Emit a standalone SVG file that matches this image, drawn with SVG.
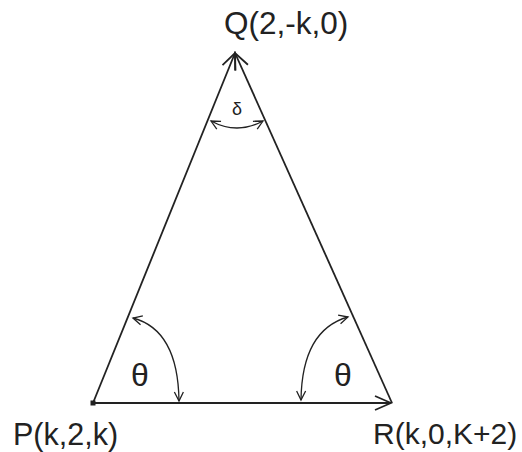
<svg xmlns="http://www.w3.org/2000/svg" width="522" height="452" viewBox="0 0 522 452">
<defs>
<style>
.ln{stroke:#222;stroke-width:1.8;fill:none}
.arc{stroke:#222;stroke-width:1.3;fill:none}
.lbl{font-family:"Liberation Sans",Arial,sans-serif;fill:#222}
</style>
<marker id="big" viewBox="0 0 20 20" refX="18" refY="10" markerWidth="20" markerHeight="20" markerUnits="userSpaceOnUse" orient="auto">
<path d="M2,3 L18,10 L2,17" fill="none" stroke="#222" stroke-width="1.8"/>
</marker>
<marker id="sm" viewBox="0 0 12 12" refX="10" refY="6" markerWidth="12" markerHeight="12" markerUnits="userSpaceOnUse" orient="auto-start-reverse">
<path d="M1,1.5 L10,6 L1,10.5" fill="none" stroke="#222" stroke-width="1.3"/>
</marker>
</defs>
<g id="connectors">
<line class="ln" x1="93" y1="403" x2="235" y2="53" marker-end="url(#big)"/>
<line class="ln" x1="392" y1="403" x2="235" y2="53" marker-end="url(#big)"/>
<line class="ln" x1="93" y1="403" x2="391" y2="403" marker-end="url(#big)"/>
<path class="arc" d="M133,318 Q178,330 179,401" marker-start="url(#sm)" marker-end="url(#sm)"/>
<path class="arc" d="M348,317 Q302,330 301,400" marker-start="url(#sm)" marker-end="url(#sm)"/>
<path class="arc" d="M211,121 Q237,135 263,121" marker-start="url(#sm)" marker-end="url(#sm)"/>
</g>
<g id="P">
<rect x="90.5" y="400.5" width="5" height="5" fill="#222"/>
<text class="lbl" x="13" y="445" font-size="30.5">P(k,2,k)</text>
</g>
<g id="Q">
<text class="lbl" x="224" y="34" font-size="31.5">Q(2,-k,0)</text>
</g>
<g id="R">
<text class="lbl" x="373" y="444" font-size="30">R(k,0,K+2)</text>
</g>
<g id="angles">
<text class="lbl" x="140" y="386" font-size="32" text-anchor="middle">θ</text>
<text class="lbl" x="343" y="386" font-size="32" text-anchor="middle">θ</text>
<text class="lbl" x="237" y="115" font-size="18" text-anchor="middle">δ</text>
</g>
</svg>
